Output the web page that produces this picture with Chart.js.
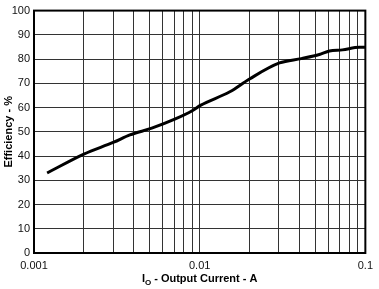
<!doctype html>
<html lang="en">
<head>
<meta charset="utf-8">
<title>Efficiency vs Output Current</title>
<style>
  * { margin: 0; padding: 0; box-sizing: border-box; }
  body { background: #fff; width: 379px; height: 289px; overflow: hidden; }
  .cw { position: relative; width: 379px; height: 289px; }
</style>
</head>
<body>
<div class="cw"><canvas id="eff"></canvas></div>
<script src="https://cdn.jsdelivr.net/npm/chart.js@4.4.1/dist/chart.umd.min.js"></script>
<script>
  // curve (log x)
  const currentA = [0.0012, 0.002, 0.00303, 0.00379, 0.00514, 0.00707, 0.00907, 0.0101,
    0.0152, 0.02, 0.0303, 0.0411, 0.0528, 0.0607, 0.0727, 0.092, 0.1];
  const efficiencyPct = [33, 40.8, 45.7, 48.7, 51.5, 55.2, 58.8, 60.9,
    66.5, 71.8, 78.4, 80.2, 81.9, 83.3, 83.8, 84.9, 84.9];
  const xTicks = [0.001, 0.002, 0.003, 0.004, 0.005, 0.006, 0.007, 0.008, 0.009,
    0.01, 0.02, 0.03, 0.04, 0.05, 0.06, 0.07, 0.08, 0.09, 0.1];
  const xLabels = { 0.001: "0.001", 0.01: "0.01", 0.1: "0.1" };

  const FONT = "'Liberation Sans', Arial, sans-serif";
  Chart.defaults.font.family = FONT;
  Chart.defaults.color = "#111";

  // frame + x title with subscript O
  const extras = {
    id: "extras",
    afterDraw(chart) {
      const { ctx, chartArea: a } = chart;
      ctx.save();
      ctx.strokeStyle = "#000";
      ctx.lineWidth = 2;
      ctx.strokeRect(a.left, a.top, a.right - a.left, a.bottom - a.top);

      ctx.fillStyle = "#000";
      ctx.textBaseline = "alphabetic";
      const big = "bold 11px " + FONT, small = "bold 8px " + FONT;
      const rest = " - Output Current - A";
      ctx.font = big; const wI = ctx.measureText("I").width, wR = ctx.measureText(rest).width;
      ctx.font = small; const wO = ctx.measureText("O").width;
      let x = (a.left + a.right) / 2 - (wI + wO + wR) / 2;
      const base = 282;
      ctx.font = big; ctx.fillText("I", x, base); x += wI;
      ctx.font = small; ctx.fillText("O", x, base + 3); x += wO;
      ctx.font = big; ctx.fillText(rest, x, base);
      ctx.restore();
    }
  };

  new Chart(document.getElementById("eff"), {
    type: "line",
    data: { datasets: [{
      data: currentA.map((c, i) => ({ x: c, y: efficiencyPct[i] })),
      borderColor: "#000", borderWidth: 3, pointRadius: 0, tension: 0,
      cubicInterpolationMode: "monotone", fill: false
    }] },
    options: {
      responsive: true, maintainAspectRatio: false, animation: false,
      layout: { padding: { top: 6, right: 13, left: 0, bottom: 0 } },
      plugins: { legend: { display: false }, tooltip: { enabled: false } },
      scales: {
        x: {
          type: "logarithmic", min: 0.001, max: 0.1,
          afterBuildTicks: (s) => { s.ticks = xTicks.map(v => ({ value: v })); },
          afterFit: (s) => { s.height = 36; },
          grid: { color: "#333", lineWidth: 1, drawTicks: false },
          border: { display: false },
          ticks: { autoSkip: false, maxRotation: 0, padding: 6, font: { size: 11 },
            callback: (v) => xLabels[v] || "" }
        },
        y: {
          min: 0, max: 100,
          afterFit: (s) => { s.width = 34; },
          grid: { color: "#333", lineWidth: 1, drawTicks: false },
          border: { display: false },
          ticks: { stepSize: 10, padding: 4, font: { size: 11 } },
          title: { display: true, text: "Efficiency - %", color: "#000",
            font: { size: 11, weight: "bold" }, padding: { top: 2, bottom: 0 } }
        }
      }
    },
    plugins: [extras]
  });
</script>
</body>
</html>
